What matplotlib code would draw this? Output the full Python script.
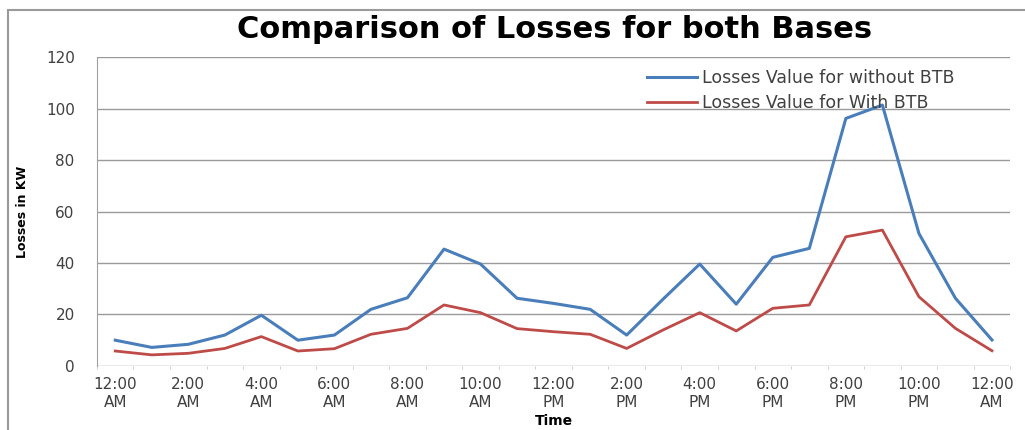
import numpy as np
import matplotlib.pyplot as plt
from matplotlib.patches import Rectangle

# hourly readings, 12:00 AM through the next 12:00 AM
hours = list(range(25))
without_btb = [10, 7.2, 8.4, 12, 19.7, 10, 12, 22, 26.5, 45.4, 39.6, 26.3, 24.3,
               22, 12, 26, 39.6, 24, 42.2, 45.7, 96.2, 101.4, 51.5, 26.3, 10.1]
with_btb = [5.8, 4.3, 4.9, 6.8, 11.4, 5.8, 6.7, 12.3, 14.6, 23.7, 20.7, 14.5, 13.3,
            12.3, 6.8, 14, 20.7, 13.6, 22.4, 23.7, 50.2, 52.8, 26.9, 14.6, 5.9]
tick_labels = ["12:00\nAM", "2:00\nAM", "4:00\nAM", "6:00\nAM", "8:00\nAM", "10:00\nAM",
               "12:00\nPM", "2:00\nPM", "4:00\nPM", "6:00\nPM", "8:00\nPM", "10:00\nPM",
               "12:00\nAM"]

plt.rcParams['font.family'] = ['DejaVu Sans']

fig = plt.figure(figsize=(10.25, 4.3), dpi=100)
ax = fig.add_axes([0.0946, 0.149, 0.891, 0.718])

# outer chart border (cut off on right/bottom like the reference)
fig.patches.append(Rectangle((8 / 1025, -0.05), 1.1, 1 - 10 / 430 + 0.05,
                             transform=fig.transFigure, fill=False,
                             edgecolor="#9a9a9a", lw=1.5))

ax.plot(hours, without_btb, color="#4a7ebb", lw=2.2, label="Losses Value for without BTB")
ax.plot(hours, with_btb, color="#be4b48", lw=2.0, label="Losses Value for With BTB")

ax.set_xlim(-0.5, 24.5)
ax.set_ylim(0, 120)
ax.set_yticks(range(0, 121, 20))
ax.yaxis.grid(True, color="#9a9a9a", lw=1.0)
ax.set_axisbelow(True)

ax.set_xticks(hours[::2])
ax.set_xticklabels(tick_labels, fontsize=11, color="#404040", linespacing=1.25)
ax.set_xticks(np.arange(-0.5, 25, 1), minor=True)
ax.tick_params(axis="x", which="major", length=0, pad=8)
ax.tick_params(axis="x", which="minor", length=2, color="#c8c8c8", direction="out")
ax.tick_params(axis="y", length=0, labelsize=11, labelcolor="#404040", pad=16)

for s in ["top", "right", "bottom"]:
    ax.spines[s].set_visible(False)
ax.spines["left"].set_color("#a0a0a0")

ax.set_ylabel("Losses in KW", fontsize=9, fontweight="bold", labelpad=12,
              family="Liberation Sans Narrow")
ax.set_xlabel("Time", fontsize=10, fontweight="bold", labelpad=3)
fig.text(0.541, 1 - 30 / 430, "Comparison of Losses for both Bases", fontsize=22,
         fontweight="bold", ha="center", va="center")

ax.legend(loc="upper left", bbox_to_anchor=(640 / 1025, 1 - 62 / 430),
          bbox_transform=fig.transFigure, frameon=False, fontsize=12.5,
          handlelength=2.9, handletextpad=0.3, labelspacing=0.42,
          labelcolor="#404040", borderaxespad=0)

fig.savefig("out.png", dpi=100)
